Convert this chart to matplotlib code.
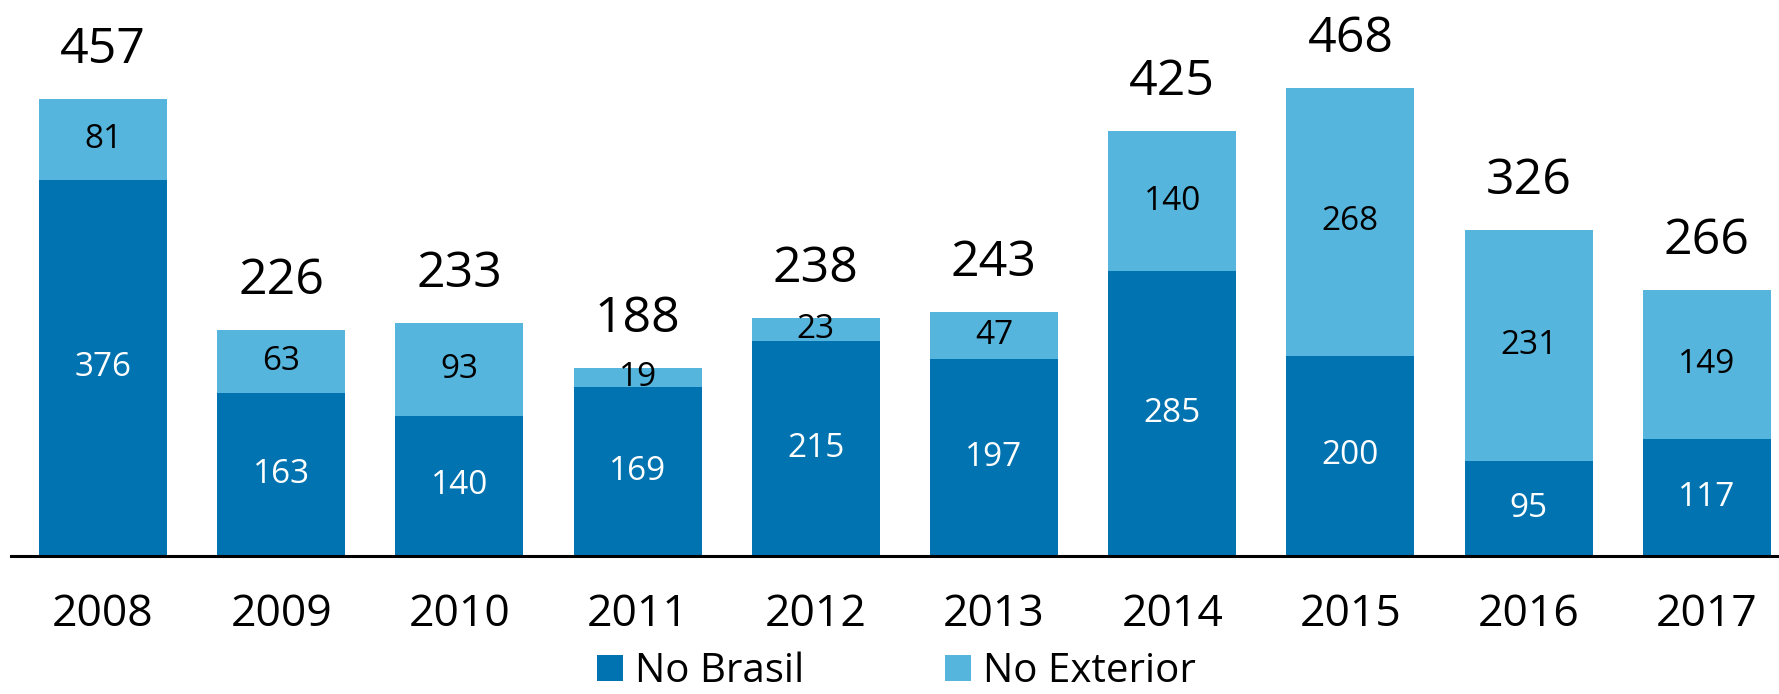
import matplotlib.pyplot as plt
import numpy as np

plt.rcParams['font.family'] = ['Open Sans', 'DejaVu Sans']

years = ['2008', '2009', '2010', '2011', '2012', '2013', '2014', '2015', '2016', '2017']
no_brasil = [376, 163, 140, 169, 215, 197, 285, 200, 95, 117]
no_exterior = [81, 63, 93, 19, 23, 47, 140, 268, 231, 149]
totals = [457, 226, 233, 188, 238, 243, 425, 468, 326, 266]

DARK = '#0173B0'
LIGHT = '#56B5DC'

W, H = 1779, 694
fig = plt.figure(figsize=(W / 100, H / 100), dpi=100)
# axes in pixel units: baseline 556 px from top, 1 unit = 1 px
ax = fig.add_axes([11 / W, (H - 556) / H, (W - 11) / W, 556 / H])

x = np.arange(len(years))
width = 0.718
bot = np.array(no_brasil)
top = np.array(no_exterior)

ax.bar(x, bot, width, color=DARK, edgecolor='none', label='No Brasil')
ax.bar(x, top, width, bottom=bot, color=LIGHT, edgecolor='none', label='No Exterior')

for i in range(len(years)):
    ax.text(x[i], bot[i] / 2, str(no_brasil[i]), ha='center', va='center',
            color='white', fontsize=24)
    ax.text(x[i], bot[i] + top[i] / 2, str(no_exterior[i]), ha='center', va='center',
            color='black', fontsize=24)
    ax.text(x[i], bot[i] + top[i] + 36, str(totals[i]), ha='center', va='baseline',
            color='black', fontsize=36)

ax.set_xlim(-0.516, 9.405)
ax.set_ylim(0, 556)
ax.set_xticks(x)
ax.set_xticklabels(years, fontsize=32)
ax.tick_params(axis='x', length=0, pad=26)
ax.set_yticks([])
for s in ['top', 'right', 'left']:
    ax.spines[s].set_visible(False)
ax.spines['bottom'].set_linewidth(2.2)
ax.spines['bottom'].set_color('black')

fig.legend(loc='center', bbox_to_anchor=(0.504, 0.032), ncol=2, frameon=False,
           fontsize=29, handlelength=0.64, handleheight=0.64,
           handletextpad=0.3, columnspacing=3.5, borderpad=0.1)

fig.savefig('out.png', dpi=100)
